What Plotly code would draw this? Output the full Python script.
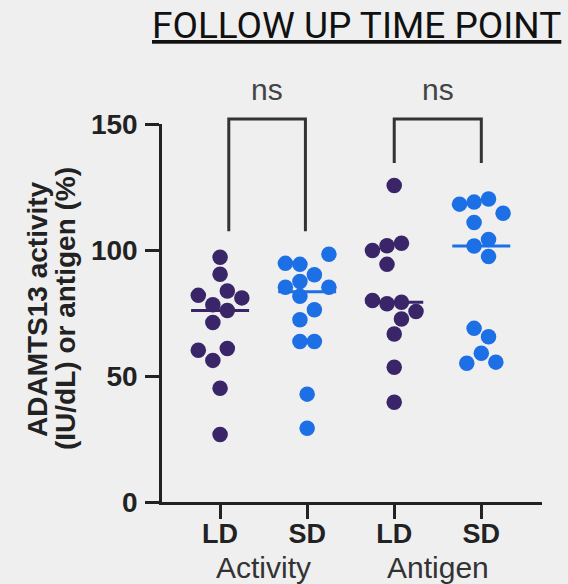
import numpy as np
import plotly.graph_objects as go

# ---------------- data ----------------
groups = ["LD", "SD", "LD", "SD"]
group_labels = ["Activity", "Antigen"]

ld_activity = [97.1, 90.4, 82.0, 83.7, 81.0, 78.3, 76.0, 71.2, 60.2, 60.9, 56.2, 45.1, 26.8]
sd_activity = [98.3, 94.7, 94.3, 90.2, 87.5, 85.2, 85.2, 81.6, 76.3, 72.3, 63.7, 63.7, 42.8, 29.3]
ld_antigen = [125.6, 99.8, 101.7, 102.7, 94.3, 80.0, 78.7, 79.3, 75.6, 72.6, 66.7, 53.5, 39.6]
sd_antigen = [118.2, 119.0, 120.2, 114.6, 110.9, 104.2, 101.6, 97.4, 68.9, 65.6, 59.0, 55.1, 55.5]

# swarm offsets (category units)
ld_activity_dx = [0, 0, -0.25, 0.083, 0.25, -0.083, 0.083, -0.083, -0.25, 0.083, -0.083, 0, 0]
sd_activity_dx = [0.25, -0.25, -0.083, 0.083, -0.083, -0.25, 0.25, -0.083, 0.083, -0.083, -0.083, 0.083, 0, 0]
ld_antigen_dx = [0, -0.25, -0.083, 0.083, -0.083, -0.25, -0.083, 0.083, 0.25, 0.083, 0, 0, 0]
sd_antigen_dx = [-0.25, -0.083, 0.083, 0.25, -0.083, 0.083, -0.083, 0.083, -0.083, 0.083, 0, -0.167, 0.167]

sig_labels = ["ns", "ns"]

# ---------------- style ----------------
PURPLE = "#3a2568"
BLUE = "#1d6fe6"
BG = "#efefef"
DARK = "#222222"
FONT = "Liberation Sans"

XMIN, XMAX = -0.667, 3.697
YMIN, YMAX = 0, 150
L, R, T, B = 162, 26, 124, 82
W, H = 568, 584
PW, PH = W - L - R, H - T - B


def xp(xd):
    return (xd - XMIN) / (XMAX - XMIN)


def yp(yd):
    return (yd - YMIN) / (YMAX - YMIN)


def ypx(p):
    return (H - B - p) / PH


def xpx(p):
    return (p - L) / PW


series = [
    (0, ld_activity, ld_activity_dx, PURPLE),
    (1, sd_activity, sd_activity_dx, BLUE),
    (2, ld_antigen, ld_antigen_dx, PURPLE),
    (3, sd_antigen, sd_antigen_dx, BLUE),
]

fig = go.Figure()

for pos, vals, dx, col in series:
    med = float(np.median(vals))
    fig.add_trace(go.Scatter(
        x=[pos - 0.333, pos + 0.333], y=[med, med], mode="lines",
        line=dict(color=col, width=3), showlegend=False, hoverinfo="skip"))

for pos, vals, dx, col in series:
    fig.add_trace(go.Scatter(
        x=[pos + d for d in dx], y=vals, mode="markers",
        marker=dict(color=col, size=15.5, line=dict(width=0)),
        showlegend=False, cliponaxis=False))

# significance brackets
brackets = [(0.1, 0.98, 152, 107.4, 107.4), (2.0, 3.0, 152, 134.5, 134.5)]
shapes = []
for (xa, xb, top, la, lb) in brackets:
    shapes.append(dict(type="path", xref="paper", yref="paper",
                       path=f"M {xp(xa)} {yp(la)} L {xp(xa)} {yp(top)} L {xp(xb)} {yp(top)} L {xp(xb)} {yp(lb)}",
                       line=dict(color="#333333", width=3)))

annotations = []
for (xa, xb, top, la, lb), lab in zip(brackets, sig_labels):
    annotations.append(dict(x=(xa + xb) / 2, xref="x", y=ypx(90), yref="paper",
                            text=lab, showarrow=False, yanchor="middle",
                            font=dict(family=FONT, size=30, color="#444444")))

for i, lab in enumerate(group_labels):
    annotations.append(dict(x=2 * i + 0.5, xref="x", y=ypx(567), yref="paper",
                            text=lab, showarrow=False, yanchor="middle",
                            font=dict(family=FONT, size=30, color="#333333")))

annotations.append(dict(x=xpx(356.5), xref="paper", y=ypx(26), yref="paper",
                        text="<u>FOLLOW UP TIME POINT</u>", showarrow=False,
                        xanchor="center", yanchor="middle",
                        font=dict(family="Roboto", size=37, color="#111111")))

annotations.append(dict(x=xpx(37), xref="paper", y=ypx(309), yref="paper",
                        text="ADAMTS13 activity", textangle=-90, showarrow=False,
                        xanchor="center", yanchor="middle",
                        font=dict(family=FONT, size=28, color=DARK, weight="bold")))
annotations.append(dict(x=xpx(65), xref="paper", y=ypx(309), yref="paper",
                        text="(IU/dL) or antigen (%)", textangle=-90, showarrow=False,
                        xanchor="center", yanchor="middle",
                        font=dict(family=FONT, size=28, color=DARK, weight="bold")))

fig.update_layout(
    width=W, height=H,
    margin=dict(l=L, r=R, t=T, b=B, pad=0),
    paper_bgcolor=BG, plot_bgcolor=BG,
    shapes=shapes, annotations=annotations,
    xaxis=dict(range=[XMIN, XMAX], tickvals=[0, 1, 2, 3], ticktext=groups,
               showline=True, linecolor=DARK, linewidth=2.5,
               ticks="outside", ticklen=14, tickwidth=2.5, tickcolor=DARK,
               showgrid=False, zeroline=False, ticklabelstandoff=-8,
               tickfont=dict(family=FONT, size=27, color=DARK, weight="bold")),
    yaxis=dict(range=[YMIN, YMAX], tickvals=[0, 50, 100, 150],
               showline=True, linecolor=DARK, linewidth=2.5,
               ticks="outside", ticklen=14, tickwidth=2.5, tickcolor=DARK,
               showgrid=False, zeroline=False, ticklabelstandoff=2,
               tickfont=dict(family=FONT, size=28, color=DARK, weight="bold")),
)

fig.write_html("out.html")
